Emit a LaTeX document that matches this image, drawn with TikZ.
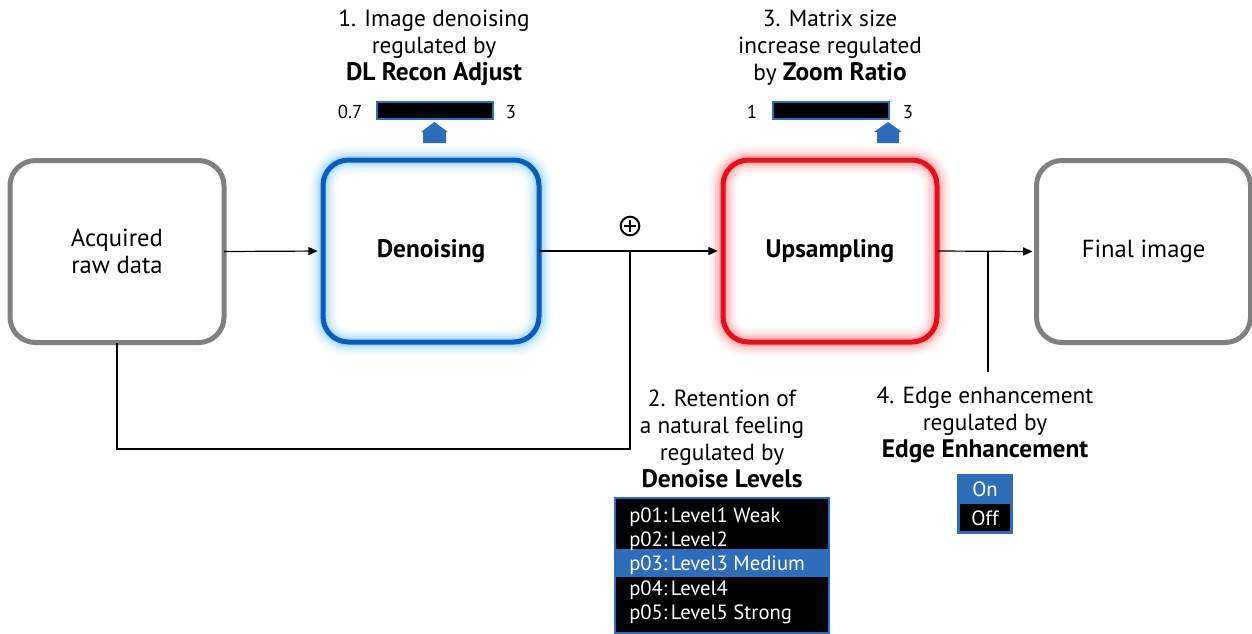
\documentclass[tikz,border=0pt]{standalone}
\usepackage{fontspec}
\setmainfont{PT Sans}
\usetikzlibrary{arrows.meta}
\definecolor{uiblue}{HTML}{2E6DB9}
\definecolor{dblue}{HTML}{0A5CB8}
\definecolor{gblue}{HTML}{6EC3F5}
\definecolor{dred}{HTML}{E0101E}
\definecolor{gred}{HTML}{FF7070}
\definecolor{boxgray}{HTML}{808080}
\newcommand{\bigb}[1]{{\fontsize{19}{20}\selectfont\textbf{#1}}}
\begin{document}
\begin{tikzpicture}[x=0.75pt,y=-0.75pt,
  every node/.style={font=\fontsize{17.5}{20.2}\selectfont, inner sep=0pt},
  procbox/.style={draw, rounded corners=19pt, minimum width=160.5pt, minimum height=136.5pt, outer sep=0pt, align=center, font=\fontsize{18.5}{20.2}\selectfont},
  graybox/.style={procbox, draw=boxgray, line width=3.75pt, fill=white},
  conn/.style={line width=0.9pt, draw=black},
  arr/.style={conn, -{Triangle[length=7pt,width=6pt]}},
  lbl/.style={align=center},
  small/.style={font=\fontsize{14}{16}\selectfont},
  listtxt/.style={font=\fontsize{15.5}{17}\selectfont, text=white, anchor=west},
  slider/.style={draw=uiblue, fill=black, line width=1.5pt},
  pointer/.style={fill=uiblue}
]
\useasboundingbox (0,0) rectangle (1252,633);

% glows
\foreach \w/\o in {28/0.05,24/0.06,20/0.08,16/0.12,12/0.18,8/0.3}{
  \draw[line width=\w*0.75pt, draw=gblue, opacity=\o, rounded corners=19pt] (323,160) rectangle (539,342);
  \draw[line width=\w*0.75pt, draw=gred, opacity=\o, rounded corners=19pt] (723,160) rectangle (937,342);
}

% boxes
\node[graybox] (acq) at (117,251.5) {Acquired\\raw data};
\node[procbox, draw=dblue, line width=3.75pt, minimum width=162pt] (den) at (431,251) {\bigb{Denoising}};
\node[procbox, draw=dred, line width=3.75pt] (ups) at (830,251) {\bigb{Upsampling}};
\node[graybox] (fin) at (1143.5,251.5) {Final image};

% connectors
\coordinate (j) at (630,251);
\coordinate (jb) at (630,449);
\coordinate (e) at (988,251);
\coordinate (eb) at (988,372);
\draw[arr, shorten >=4pt] (acq.east) -- (den.west);
\draw[conn] (den.east) -- (j);
\draw[arr, shorten >=4pt] (j) -- (ups.west);
\draw[conn] (acq.south) |- (jb) -- (j);
\draw[arr, shorten >=3pt] (ups.east) -- (fin.west);
\draw[conn] (e) -- (eb);

% circle plus
\node[circle, draw, line width=1.5pt, minimum size=14pt] (plus) at (630,226) {};
\draw[line width=0.8pt] ([xshift=-4.5pt]plus.center) -- ([xshift=4.5pt]plus.center);
\draw[line width=0.8pt] ([yshift=-4.5pt]plus.center) -- ([yshift=4.5pt]plus.center);

% label 1
\node[lbl] (l1) at (434,48) {1. Image denoising\\regulated by\\\bigb{DL Recon Adjust}};
\draw[slider] (377,102) rectangle (493,119);
\node[small] (l1a) at (350,112) {0.7};
\node[small] (l1b) at (511,112) {3};
\fill[pointer] (434.5,122) -- (448,132) -- (446,132) -- (446,143) -- (423,143) -- (423,132) -- (421,132) -- cycle;

% label 3
\node[lbl] (l3) at (830,48) {3. Matrix size\\increase regulated\\by \bigb{Zoom Ratio}};
\draw[slider] (773,102) rectangle (889,119);
\node[small] (l3a) at (752,112) {1};
\node[small] (l3b) at (908,112) {3};
\fill[pointer] (888,122) -- (902,132) -- (899,132) -- (899,143) -- (877,143) -- (877,132) -- (874,132) -- cycle;

% label 2
\node[lbl] (l2) at (722,438.5) {2. Retention of\\a natural feeling\\regulated by\\\bigb{Denoise Levels}};
\fill[black] (615,498) rectangle (829,633);
\fill[uiblue] (615,549) rectangle (829,577);
\draw[draw=uiblue, line width=1.5pt] (615,498) rectangle (829,633);
\node[listtxt] (p1) at (629,517) {p01:\,Level1 Weak};
\node[listtxt] (p2) at (629,541) {p02:\,Level2};
\node[listtxt] (p3) at (629,565) {p03:\,Level3 Medium};
\node[listtxt] (p4) at (629,590) {p04:\,Level4};
\node[listtxt] (p5) at (629,614) {p05:\,Level5 Strong};

% label 4
\node[lbl] (l4) at (985,425) {4. Edge enhancement\\regulated by\\\bigb{Edge Enhancement}};
\fill[uiblue] (957,474) rectangle (1013,504);
\fill[uiblue] (957,504) rectangle (1013,534);
\fill[black] (960,504) rectangle (1010,531);
\node[listtxt, anchor=center] (on) at (985,489) {On};
\node[listtxt, anchor=center] (off) at (985,518) {Off};
\end{tikzpicture}
\end{document}
